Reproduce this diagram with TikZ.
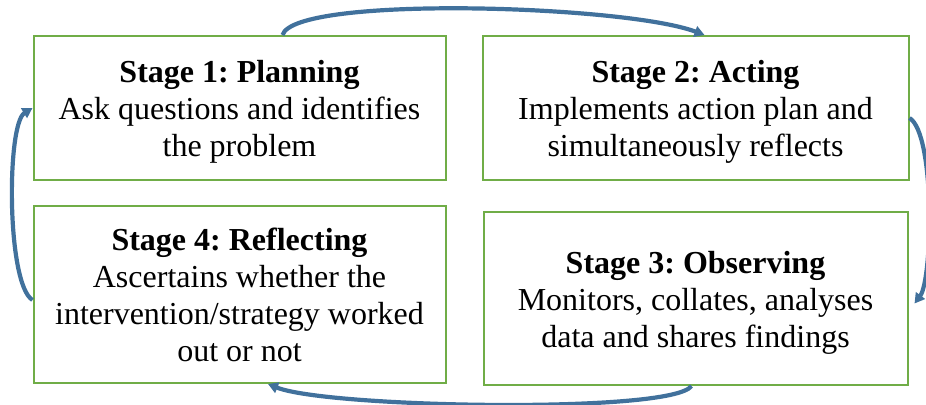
\documentclass[tikz,border=0pt]{standalone}
\usepackage{fontspec}
\setmainfont{Liberation Serif}
\usepackage{tikz}
\usetikzlibrary{positioning}
\usetikzlibrary{arrows.meta}
\usepackage{xcolor}
\frenchspacing

\definecolor{stagegreen}{HTML}{70AD47}
\definecolor{cycleblue}{HTML}{41719C}

% bold stage heading, with a little extra room above it
\newcommand{\stagetitle}[1]{\rule{0pt}{15pt}\textbf{#1}}

\begin{document}
\begin{tikzpicture}[
  x=1pt, y=1pt,
  font=\fontsize{16}{18.5}\selectfont,
  box/.style={draw=stagegreen, line width=1pt, align=center, inner sep=0pt, minimum width=206pt, minimum height=72pt},
  cycle/.style={-{Triangle[length=5pt,width=5.5pt]}, draw=cycleblue, line width=2.1pt}
]
\useasboundingbox (0,0) rectangle (463,202);

% Stages of the cycle
\node[box] (stage1) at (119.75,148) {\stagetitle{Stage 1: Planning}\\Ask questions and identifies\\the problem};
\node[box, right=17.5pt of stage1, minimum width=213pt] (stage2) {\stagetitle{Stage 2: Acting}\\Implements action plan and\\simultaneously reflects};
\node[box, below=15pt of stage2, minimum width=212pt, minimum height=86.5pt] (stage3) {\stagetitle{Stage 3: Observing}\\Monitors, collates, analyses\\data and shares findings};
\node[box, below=12pt of stage1, minimum height=88.5pt] (stage4) {\textbf{Stage 4: Reflecting}\\Ascertains whether the\\intervention/strategy worked\\out or not};

% Curved arrows round the cycle
\draw[cycle] ([xshift=21.5pt]stage1.north) .. controls +(6,20) and +(-40,15) .. ([xshift=4.5pt]stage2.north);
\draw[cycle] ([yshift=-5pt]stage2.east) .. controls +(13,-8) and +(9,12) .. ([shift={(3pt,-2.5pt)}]stage3.east);
\draw[cycle] ([xshift=-2pt]stage3.south) .. controls +(-10,-14) and +(30,-12) .. ([xshift=14.25pt]stage4.south);
\draw[cycle] ([yshift=-2.75pt]stage4.west) .. controls +(-13,8) and +(-13,-8) .. (stage1.west);

\end{tikzpicture}
\end{document}
